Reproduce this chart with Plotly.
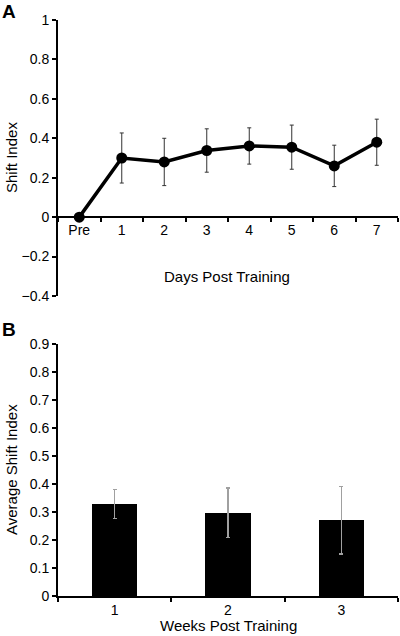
import plotly.graph_objects as go

# ---- data ----
days = ["Pre", "1", "2", "3", "4", "5", "6", "7"]
shift_index = [0.0, 0.30, 0.28, 0.338, 0.361, 0.355, 0.26, 0.38]
shift_err = [0.0, 0.127, 0.12, 0.11, 0.092, 0.112, 0.105, 0.117]

weeks = ["1", "2", "3"]
avg_shift = [0.328, 0.298, 0.270]
avg_err = [0.051, 0.088, 0.12]

ya_ticks = [-0.4, -0.2, 0, 0.2, 0.4, 0.6, 0.8, 1]
ya_labels = ["\u22120.4", "\u22120.2", "0", "0.2", "0.4", "0.6", "0.8", "1"]
yb_ticks = [0, 0.1, 0.2, 0.3, 0.4, 0.5, 0.6, 0.7, 0.8, 0.9]
yb_labels = ["0", "0.1", "0.2", "0.3", "0.4", "0.5", "0.6", "0.7", "0.8", "0.9"]

# ---- geometry ----
W, H = 400, 636
L, R = 58, 2
PW = W - L - R


def yf(px):
    return (H - px) / H


def xf(px):
    return (px - L) / PW


dom_a = [yf(296), yf(20)]
dom_b = [yf(596), yf(344)]
ra = [-0.4, 1]
zero_pos = dom_a[0] + (0 - ra[0]) / (ra[1] - ra[0]) * (dom_a[1] - dom_a[0])

FONT = "Liberation Sans, Arial, Helvetica, sans-serif"

fig = go.Figure()

fig.add_trace(go.Scatter(
    x=days, y=shift_index, xaxis="x", yaxis="y",
    mode="lines+markers",
    line=dict(color="black", width=3.5),
    marker=dict(color="black", size=11),
    error_y=dict(type="data", array=shift_err, visible=True,
                 color="#333333", thickness=1, width=2),
    showlegend=False,
))

fig.add_trace(go.Bar(
    x=weeks, y=avg_shift, xaxis="x2", yaxis="y2",
    marker=dict(color="black", line=dict(width=0)),
    width=0.4,
    error_y=dict(type="data", array=avg_err, visible=True,
                 color="#a0a0a0", thickness=1.2, width=2),
    showlegend=False,
))

axis_common = dict(
    showline=True, linecolor="black", linewidth=2,
    ticks="outside", ticklen=4, tickwidth=1.5, tickcolor="black",
    showgrid=False, zeroline=False,
    tickfont=dict(family=FONT, size=14, color="black"),
    automargin=False,
)

fig.update_layout(
    width=W, height=H,
    margin=dict(l=L, r=R, t=0, b=0),
    paper_bgcolor="white", plot_bgcolor="white",
    font=dict(family=FONT, color="black"),
    bargap=0,
    xaxis=dict(domain=[0, 1], anchor="free", position=zero_pos,
               range=[-0.5, 7.5], type="category",
               tickson="boundaries", **axis_common),
    yaxis=dict(domain=dom_a, anchor="x", range=ra,
               tickvals=ya_ticks, ticktext=ya_labels, **axis_common),
    xaxis2=dict(domain=[0, 1], anchor="y2", range=[-0.5, 2.5],
                type="category", tickson="boundaries", **axis_common),
    yaxis2=dict(domain=dom_b, anchor="x2", range=[0, 0.9],
                tickvals=yb_ticks, ticktext=yb_labels, **axis_common),
)

ann = []
ann.append(dict(text="<b>A</b>", x=xf(0), y=yf(11), xref="paper", yref="paper",
                xanchor="left", yanchor="middle", showarrow=False,
                font=dict(family=FONT, size=19, color="black")))
ann.append(dict(text="<b>B</b>", x=xf(0), y=yf(329), xref="paper", yref="paper",
                xanchor="left", yanchor="middle", showarrow=False,
                font=dict(family=FONT, size=19, color="black")))
ann.append(dict(text="Shift Index", x=xf(12), y=yf(158), xref="paper", yref="paper",
                textangle=-90, xanchor="center", yanchor="middle", showarrow=False,
                font=dict(family=FONT, size=15, color="black")))
ann.append(dict(text="Average Shift Index", x=xf(12), y=yf(470), xref="paper", yref="paper",
                textangle=-90, xanchor="center", yanchor="middle", showarrow=False,
                font=dict(family=FONT, size=15, color="black")))
ann.append(dict(text="Days Post Training", x=xf(227), y=yf(276), xref="paper", yref="paper",
                xanchor="center", yanchor="middle", showarrow=False,
                font=dict(family=FONT, size=15, color="black")))
ann.append(dict(text="Weeks Post Training", x=xf(228), y=yf(625), xref="paper", yref="paper",
                xanchor="center", yanchor="middle", showarrow=False,
                font=dict(family=FONT, size=15, color="black")))
fig.update_layout(annotations=ann)

fig.write_html(
    "out.html",
    config={"displayModeBar": False},
    post_script="document.body.style.margin='0';document.body.style.overflow='hidden';",
)
